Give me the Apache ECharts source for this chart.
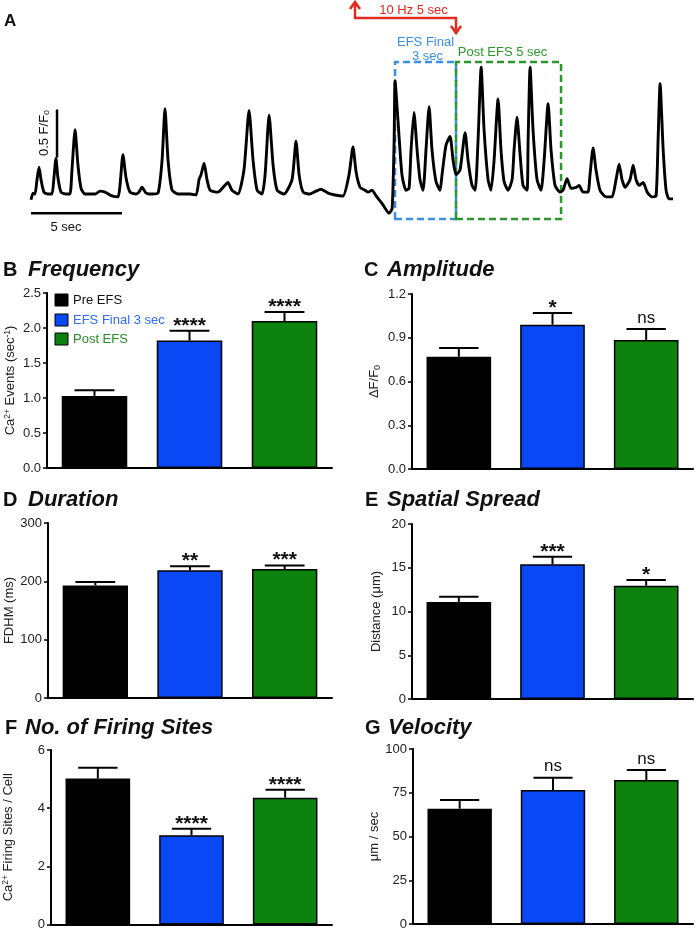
<!DOCTYPE html>
<html><head><meta charset="utf-8">
<script src="https://cdn.jsdelivr.net/npm/echarts@6/dist/echarts.min.js"></script>
<style>html,body{margin:0;padding:0;background:#fff}#c{width:700px;height:931px}</style>
</head><body><div id="c"></div>
<script>
// ---------------- data ----------------
const groups = ['Pre EFS', 'EFS Final 3 sec', 'Post EFS'];

// Panel A trace (time in s, F/F0)
const traceTime = [0.00,0.11,0.22,0.33,0.44,0.55,0.71,0.93,1.15,1.26,1.37,1.48,1.65,1.92,2.14,2.25,2.42,2.58,2.75,2.97,
 3.52,3.79,4.07,4.45,4.78,4.89,5.05,5.22,5.44,5.77,5.93,6.10,6.32,6.65,6.98,7.20,7.36,7.53,7.75,8.08,
 8.46,8.74,9.07,9.23,9.34,9.51,9.67,9.84,10.27,10.60,10.82,11.04,11.37,11.70,11.98,12.20,12.42,12.69,12.86,13.08,
 13.30,13.52,13.90,14.34,14.56,14.73,14.95,15.33,15.66,15.93,16.32,16.70,17.14,17.47,17.69,17.86,18.08,18.35,18.52,18.74,
 18.96,19.29,19.67,19.84,19.95,20.00,20.16,20.38,20.60,20.77,20.88,21.04,21.21,21.37,21.54,21.70,21.87,22.03,22.25,22.47,
 22.58,22.80,23.02,23.19,23.35,23.57,23.85,24.01,24.23,24.40,24.56,24.73,24.89,25.11,25.27,25.44,25.66,25.82,25.99,26.21,
 26.43,26.54,26.70,26.87,27.03,27.25,27.31,27.42,27.58,27.80,28.02,28.19,28.41,28.57,28.79,29.07,29.23,29.45,29.67,29.95,
 30.11,30.33,30.60,30.71,30.88,31.04,31.26,31.59,31.92,32.14,32.31,32.47,32.64,32.91,33.08,33.24,33.41,33.63,33.85,34.12,
 34.34,34.45,34.56,34.73,34.89,35.05,35.27];
const traceValue = [0.95,1.02,1.01,1.16,1.29,1.16,1.03,1.01,1.01,1.18,1.38,1.18,1.03,1.01,1.01,1.26,1.68,1.31,1.07,1.01,
 1.01,1.04,1.03,0.99,0.98,1.10,1.42,1.18,1.03,1.01,1.03,1.08,1.02,1.01,1.02,1.36,1.90,1.36,1.05,1.01,
 1.01,1.01,1.00,1.16,1.21,1.33,1.16,1.05,1.03,1.09,1.13,1.05,1.01,1.26,1.88,1.36,1.05,1.01,1.21,1.83,
 1.31,1.05,1.01,1.16,1.56,1.21,1.03,1.01,1.04,1.06,1.02,1.00,0.99,1.21,1.50,1.24,1.08,1.05,1.03,1.05,
 0.99,0.91,0.81,0.86,1.57,2.19,1.78,1.21,1.05,1.07,1.47,1.86,1.47,1.16,1.05,1.47,1.92,1.47,1.14,1.05,
 1.21,1.52,1.61,1.36,1.21,1.26,1.65,1.36,1.10,1.05,1.57,2.33,1.68,1.16,1.05,1.36,2.00,1.47,1.14,1.05,
 1.16,1.47,1.81,1.42,1.10,1.05,1.57,2.33,1.68,1.16,1.05,1.36,1.95,1.47,1.10,1.03,1.05,1.17,1.07,1.08,
 1.10,1.03,1.03,1.21,1.49,1.26,1.05,0.98,0.98,1.16,1.32,1.16,1.08,1.16,1.31,1.16,1.10,1.13,1.03,0.98,
 0.99,1.57,2.16,1.47,1.05,0.96,0.96];
const stimWindow = [17.8, 23.35];       // 10 Hz 5 sec
const efsFinalWindow = [20.0, 23.35];   // EFS final 3 sec
const postEfsWindow = [23.35, 29.12];   // post EFS 5 sec
const boxRange = [0.75, 2.385];
const scaleTime = [0, 5];
const scaleAmp = [1.39, 1.89];

// Bar panels (mean, SEM, significance)
const freqMean = [1.03, 1.82, 2.10], freqSem = [0.08, 0.14, 0.13], freqSig = ['', '****', '****'];
const ampMean = [0.77, 0.99, 0.885], ampSem = [0.06, 0.08, 0.075], ampSig = ['', '*', 'ns'];
const durMean = [193, 219, 221], durSem = [6, 7, 6], durSig = ['', '**', '***'];
const spreadMean = [11.1, 15.4, 12.95], spreadSem = [0.6, 0.85, 0.65], spreadSig = ['', '***', '*'];
const sitesMean = [5.02, 3.07, 4.36], sitesSem = [0.37, 0.22, 0.27], sitesSig = ['', '****', '****'];
const velMean = [65.9, 76.6, 82.3], velSem = [5.0, 7.0, 5.7], velSig = ['', 'ns', 'ns'];

const freqAxis = [0, 2.5, 0.5], ampAxis = [0, 1.2, 0.3], durAxis = [0, 300, 100];
const spreadAxis = [0, 20, 5], sitesAxis = [0, 6, 2], velAxis = [0, 100, 25];

// ---------------- styling / layout ----------------
const FONT = '"Liberation Sans", Arial, Helvetica, sans-serif';
const barColors = ['#000000', '#0a47f5', '#0e820e'];
const chart = echarts.init(document.getElementById('c'), null, {renderer: 'canvas'});

const panels = [
  {letter: 'B', title: 'Frequency', lx: 3, tx: 28, ty: 270, grid: {left: 47, top: 293, width: 285, height: 175},
   mean: freqMean, sem: freqSem, sig: freqSig, axis: freqAxis, dec: 1, gap: 29,
   name: '{n|Ca}{s|2+}{n| Events (sec}{s|-1}{n|)}'},
  {letter: 'C', title: 'Amplitude', lx: 364, tx: 387, ty: 270, grid: {left: 412, top: 294, width: 281, height: 175},
   mean: ampMean, sem: ampSem, sig: ampSig, axis: ampAxis, dec: 1, gap: 30,
   name: '{n|ΔF/F}{b|0}'},
  {letter: 'D', title: 'Duration', lx: 3, tx: 28, ty: 500, grid: {left: 48, top: 523, width: 284, height: 175},
   mean: durMean, sem: durSem, sig: durSig, axis: durAxis, dec: 0, gap: 31,
   name: '{n|FDHM (ms)}'},
  {letter: 'E', title: 'Spatial Spread', lx: 365, tx: 387, ty: 500, grid: {left: 412, top: 524, width: 281, height: 175},
   mean: spreadMean, sem: spreadSem, sig: spreadSig, axis: spreadAxis, dec: 0, gap: 28,
   name: '{n|Distance (μm)}'},
  {letter: 'F', title: 'No. of Firing Sites', lx: 5, tx: 25, ty: 728, grid: {left: 49, top: 750, width: 283, height: 175},
   mean: sitesMean, sem: sitesSem, sig: sitesSig, axis: sitesAxis, dec: 0, gap: 35,
   name: '{n|Ca}{s|2+}{n| Firing Sites / Cell}'},
  {letter: 'G', title: 'Velocity', lx: 365, tx: 388, ty: 728, grid: {left: 413, top: 749, width: 280, height: 175},
   mean: velMean, sem: velSem, sig: velSig, axis: velAxis, dec: 0, gap: 31,
   name: '{n|μm / sec}'}
];

const grids = [{left: 31, top: 55.8, width: 642, height: 168}];
const xAxes = [{gridIndex: 0, type: 'value', min: 0, max: 35.27, show: false}];
const yAxes = [{gridIndex: 0, type: 'value', min: 0.7, max: 2.45, show: false}];
const series = [];

series.push({
  type: 'line', xAxisIndex: 0, yAxisIndex: 0, showSymbol: false, symbol: 'none', smooth: 0.2,
  data: traceTime.map((t, i) => [t, traceValue[i]]),
  lineStyle: {color: '#000', width: 2.9}, z: 3, silent: true,
  markArea: {
    silent: true,
    data: [
      [{coord: [efsFinalWindow[0], boxRange[0]], itemStyle: {color: 'rgba(0,0,0,0)', borderColor: '#3a8ee6', borderWidth: 2.5, borderType: [7, 4]}},
       {coord: [efsFinalWindow[1], boxRange[1]]}],
      [{coord: [postEfsWindow[0], boxRange[0]], itemStyle: {color: 'rgba(0,0,0,0)', borderColor: '#2c962c', borderWidth: 2.5, borderType: [7, 4]}},
       {coord: [postEfsWindow[1], boxRange[1]]}]
    ]
  }
});
// scale bars
series.push({type: 'line', xAxisIndex: 0, yAxisIndex: 0, symbol: 'none', silent: true,
  data: [[scaleTime[0], 0.81], [scaleTime[1], 0.81]], lineStyle: {color: '#000', width: 2.5}});
series.push({type: 'line', xAxisIndex: 0, yAxisIndex: 0, symbol: 'none', silent: true,
  data: [[1.43, scaleAmp[0]], [1.43, scaleAmp[1]]], lineStyle: {color: '#000', width: 2.5}});

const graphics = [];

panels.forEach((p, k) => {
  const gi = k + 1;
  grids.push(p.grid);
  xAxes.push({gridIndex: gi, type: 'category', data: groups, boundaryGap: true,
    axisLine: {lineStyle: {color: '#000', width: 2}}, axisTick: {show: false}, axisLabel: {show: false}});
  yAxes.push({gridIndex: gi, type: 'value', min: p.axis[0], max: p.axis[1], interval: p.axis[2],
    splitLine: {show: false},
    axisLine: {show: true, lineStyle: {color: '#000', width: 2}},
    axisTick: {show: true, length: 4, lineStyle: {color: '#000', width: 1.5}},
    axisLabel: {margin: 6, color: '#222', fontFamily: FONT, fontSize: 13,
      formatter: v => v.toFixed(p.dec)},
    name: p.name, nameLocation: 'middle', nameRotate: 90, nameGap: p.gap,
    nameTextStyle: {fontFamily: FONT, color: '#222', fontSize: 13,
      rich: {
        n: {fontFamily: FONT, fontSize: 13, color: '#222', lineHeight: 15},
        s: {fontFamily: FONT, fontSize: 8.5, color: '#222', verticalAlign: 'top', lineHeight: 15},
        b: {fontFamily: FONT, fontSize: 9, color: '#222', verticalAlign: 'bottom', lineHeight: 15}
      }}
  });
  series.push({
    type: 'bar', xAxisIndex: gi, yAxisIndex: gi, barWidth: '69%', silent: true,
    data: p.mean.map((m, j) => ({value: m, itemStyle: {color: barColors[j], borderColor: '#000', borderWidth: 1.5}})),
    z: 2
  });
  const sig = p.sig;
  series.push({
    type: 'custom', xAxisIndex: gi, yAxisIndex: gi, silent: true, z: 3,
    data: p.mean.map((m, j) => [j, m, p.sem[j]]),
    renderItem: (params, api) => {
      const j = api.value(0), m = api.value(1), s = api.value(2);
      const base = api.coord([j, m]);
      const top = api.coord([j, m + s]);
      const half = api.size([1, 0])[0] * 0.21;
      const ch = [
        {type: 'line', shape: {x1: top[0], y1: base[1], x2: top[0], y2: top[1]}, style: {stroke: '#000', lineWidth: 2}},
        {type: 'line', shape: {x1: top[0] - half, y1: top[1], x2: top[0] + half, y2: top[1]}, style: {stroke: '#000', lineWidth: 2}}
      ];
      const t = sig[params.dataIndex];
      if (t) {
        const isStar = t.indexOf('*') >= 0;
        ch.push({type: 'text', style: {
          text: t, x: top[0], y: top[1] - (isStar ? 5 : 11),
          textAlign: 'center', textVerticalAlign: 'middle', align: 'center', verticalAlign: 'middle',
          font: isStar ? 'bold 21px ' + FONT : '17px ' + FONT, fill: '#111'}});
      }
      return {type: 'group', children: ch};
    }
  });
  graphics.push({type: 'text', x: p.lx, y: p.ty, style: {text: p.letter, font: 'bold 20px ' + FONT, fill: '#111',
    textVerticalAlign: 'middle', verticalAlign: 'middle'}});
  graphics.push({type: 'text', x: p.tx, y: p.ty, style: {text: p.title, font: 'italic bold 22px ' + FONT, fill: '#111',
    textVerticalAlign: 'middle', verticalAlign: 'middle'}});
});

chart.setOption({
  animation: false,
  backgroundColor: '#fff',
  grid: grids, xAxis: xAxes, yAxis: yAxes, series: series
});

// annotations tied to trace coordinates
const px = t => chart.convertToPixel({xAxisIndex: 0}, t);
const xs = px(stimWindow[0]), xe = px(stimWindow[1]);
const red = '#e4291e';
graphics.push(
  {type: 'text', x: 4, y: 21, style: {text: 'A', font: 'bold 17px ' + FONT, fill: '#111', textVerticalAlign: 'middle', verticalAlign: 'middle'}},
  {type: 'polyline', shape: {points: [[xs, 3], [xs, 18], [xe, 18], [xe, 32]]}, style: {stroke: red, lineWidth: 2.5, fill: null}},
  {type: 'polyline', shape: {points: [[xs - 5, 9], [xs, 2], [xs + 5, 9]]}, style: {stroke: red, lineWidth: 2.5, fill: null}},
  {type: 'polyline', shape: {points: [[xe - 5, 26], [xe, 33], [xe + 5, 26]]}, style: {stroke: red, lineWidth: 2.5, fill: null}},
  {type: 'text', x: (xs + xe) / 2 + 8, y: 10, style: {text: '10 Hz 5 sec', font: '13px ' + FONT, fill: red,
    textAlign: 'center', align: 'center', textVerticalAlign: 'middle', verticalAlign: 'middle'}},
  {type: 'text', x: (px(efsFinalWindow[0]) + px(efsFinalWindow[1])) / 2, y: 42, z: 10, style: {text: 'EFS Final', font: '13px ' + FONT, fill: '#3a8ee6',
    textAlign: 'center', align: 'center', textVerticalAlign: 'middle', verticalAlign: 'middle'}},
  {type: 'text', x: (px(efsFinalWindow[0]) + px(efsFinalWindow[1])) / 2 + 2, y: 56, z: 10, style: {text: '3 sec', font: '13px ' + FONT, fill: '#3a8ee6',
    textAlign: 'center', align: 'center', textVerticalAlign: 'middle', verticalAlign: 'middle'}},
  {type: 'text', x: (px(postEfsWindow[0]) + px(postEfsWindow[1])) / 2 - 6, y: 52, style: {text: 'Post EFS 5 sec', font: '13px ' + FONT, fill: '#2c962c',
    textAlign: 'center', align: 'center', textVerticalAlign: 'middle', verticalAlign: 'middle'}},
  {type: 'text', x: 44, y: 133, rotation: Math.PI / 2, style: {text: '{n|0.5 F/F}{b|o}', font: '13px ' + FONT, fill: '#111',
    textAlign: 'center', align: 'center', textVerticalAlign: 'middle', verticalAlign: 'middle',
    rich: {n: {font: '13px ' + FONT, fill: '#111', lineHeight: 15}, b: {font: '9px ' + FONT, fill: '#111', verticalAlign: 'bottom', lineHeight: 15}}}},
  {type: 'text', x: 66, y: 227, style: {text: '5 sec', font: '13px ' + FONT, fill: '#111',
    textAlign: 'center', align: 'center', textVerticalAlign: 'middle', verticalAlign: 'middle'}}
);
// legend of panel B
const legY = [300, 320, 339];
const legText = ['#111', '#2f6cf5', '#2a8a2a'];
groups.forEach((g, j) => {
  graphics.push({type: 'rect', shape: {x: 55, y: legY[j] - 6, width: 13, height: 12},
    style: {fill: barColors[j], stroke: '#000', lineWidth: 1}});
  graphics.push({type: 'text', x: 73, y: legY[j], style: {text: g, font: '13px ' + FONT, fill: legText[j],
    textVerticalAlign: 'middle', verticalAlign: 'middle'}});
});
chart.setOption({graphic: graphics});
</script>
</body></html>
